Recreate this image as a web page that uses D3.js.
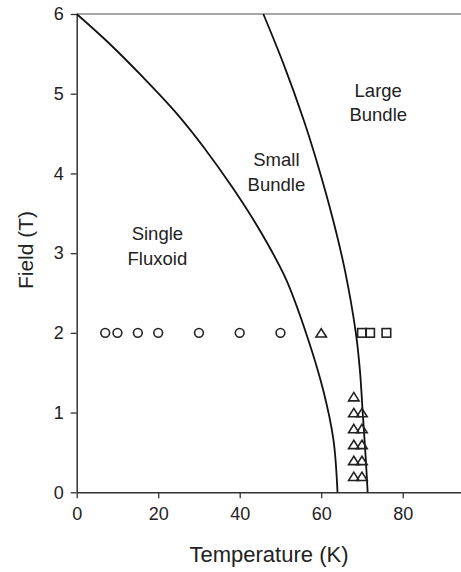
<!DOCTYPE html>
<html>
<head>
<meta charset="utf-8">
<script src="https://cdn.jsdelivr.net/npm/d3@7"></script>
<style>
  body { margin: 0; background: #fff; }
  text { font-family: Arial, "Liberation Sans", sans-serif; fill: #222; }
</style>
</head>
<body>
<div id="chart"></div>
<script>
// chart size
var svgWidth = 461;
var svgHeight = 572;

// boundary curves (temperature K, field T)
var singleEdgeT = [0, 8, 16.2, 24.4, 31.3, 38.4, 45, 51.3, 56.4, 60.5, 63, 64];
var singleEdgeB = [6, 5.63, 5.21, 4.76, 4.32, 3.81, 3.28, 2.68, 1.98, 1.28, 0.66, 0];
var bundleEdgeT = [45.8, 50.7, 55.7, 59.2, 62.9, 65.8, 68.5, 69.5, 70.2, 70.9, 71.4];
var bundleEdgeB = [6, 5.38, 4.67, 4.1, 3.42, 2.79, 2.0, 1.53, 0.99, 0.45, 0];

// measured points
var circleT = [7, 10, 15, 20, 30, 40, 50];
var circleB = [2, 2, 2, 2, 2, 2, 2];
var triangleT = [60, 68, 68, 68, 68, 68, 68, 70, 70, 70, 70, 70];
var triangleB = [2, 1.2, 1.0, 0.8, 0.6, 0.4, 0.2, 1.0, 0.8, 0.6, 0.4, 0.2];
var squareT = [70, 72, 76];
var squareB = [2, 2, 2];

var xTicks = [0, 20, 40, 60, 80];
var yTicks = [0, 1, 2, 3, 4, 5, 6];

// region labels
var regionLabels = [
  { lines: ["Single", "Fluxoid"], t: 19.8, b: 3.16 },
  { lines: ["Small", "Bundle"], t: 49, b: 4.09 },
  { lines: ["Large", "Bundle"], t: 74, b: 4.96 }
];

var svg = d3.select("#chart")
  .append("svg")
  .attr("width", svgWidth)
  .attr("height", svgHeight);

var x = d3.scaleLinear().domain([0, 100]).range([76.7, 484.2]);
var y = d3.scaleLinear().domain([0, 6]).range([492.3, 14]);

// top frame line
svg.append("line")
  .attr("x1", x(0)).attr("x2", svgWidth)
  .attr("y1", y(6)).attr("y2", y(6))
  .attr("stroke", "#8a8a8a")
  .attr("stroke-width", 1.5);

// axes
var xAxis = svg.append("g")
  .attr("transform", `translate(0, ${y(0)})`)
  .call(d3.axisBottom(x).tickValues(xTicks).tickSize(6).tickSizeOuter(0).tickPadding(9));

var yAxis = svg.append("g")
  .attr("transform", `translate(${x(0)}, 0)`)
  .call(d3.axisLeft(y).tickValues(yTicks).tickFormat(d3.format("d"))
    .tickSize(6).tickSizeOuter(0).tickPadding(7));

[xAxis, yAxis].forEach(function (g) {
  g.select(".domain").attr("stroke", "#333").attr("stroke-width", 1.5);
  g.selectAll(".tick line").attr("stroke", "#333").attr("stroke-width", 1.3);
  g.selectAll(".tick text")
    .attr("fill", "#222")
    .style("font-size", "18px")
    .style("font-family", "Arial, 'Liberation Sans', sans-serif");
});

// boundary lines
var line = d3.line()
  .x((d) => x(d[0]))
  .y((d) => y(d[1]))
  .curve(d3.curveCatmullRom.alpha(0.5));

[[singleEdgeT, singleEdgeB], [bundleEdgeT, bundleEdgeB]].forEach(function (c) {
  svg.append("path")
    .datum(d3.zip(c[0], c[1]))
    .attr("fill", "none")
    .attr("stroke", "#111")
    .attr("stroke-width", 1.8)
    .attr("d", line);
});

// markers
var marks = svg.append("g")
  .attr("fill", "none")
  .attr("stroke", "#222")
  .attr("stroke-width", 1.6);

marks.selectAll("circle")
  .data(d3.zip(circleT, circleB))
  .enter()
  .append("circle")
  .attr("cx", (d) => x(d[0]))
  .attr("cy", (d) => y(d[1]))
  .attr("r", 4.4);

// wide open triangle, like the original's marker
var wideTriangle = {
  draw: function (ctx, size) {
    var w = Math.sqrt(size), h = w * 0.8;
    ctx.moveTo(0, -h / 2);
    ctx.lineTo(w / 2, h / 2);
    ctx.lineTo(-w / 2, h / 2);
    ctx.closePath();
  }
};
var tri = d3.symbol().type(wideTriangle).size(110);
marks.selectAll("path.tri")
  .data(d3.zip(triangleT, triangleB))
  .enter()
  .append("path")
  .attr("class", "tri")
  .attr("transform", (d) => `translate(${x(d[0])}, ${y(d[1])})`)
  .attr("d", tri);

marks.selectAll("rect")
  .data(d3.zip(squareT, squareB))
  .enter()
  .append("rect")
  .attr("x", (d) => x(d[0]) - 4.3)
  .attr("y", (d) => y(d[1]) - 4.3)
  .attr("width", 8.6)
  .attr("height", 8.6);

// region text
regionLabels.forEach(function (r) {
  var t = svg.append("text")
    .attr("text-anchor", "middle")
    .style("font-size", "18.5px");
  r.lines.forEach(function (s, i) {
    t.append("tspan")
      .attr("x", x(r.t))
      .attr("y", y(r.b) + i * 24.5)
      .text(s);
  });
});

// axis titles
svg.append("text")
  .attr("x", 269)
  .attr("y", 562)
  .attr("text-anchor", "middle")
  .style("font-size", "22px")
  .text("Temperature (K)");

svg.append("text")
  .attr("transform", "rotate(-90)")
  .attr("x", -250)
  .attr("y", 33)
  .attr("text-anchor", "middle")
  .style("font-size", "21px")
  .text("Field (T)");
</script>
</body>
</html>
